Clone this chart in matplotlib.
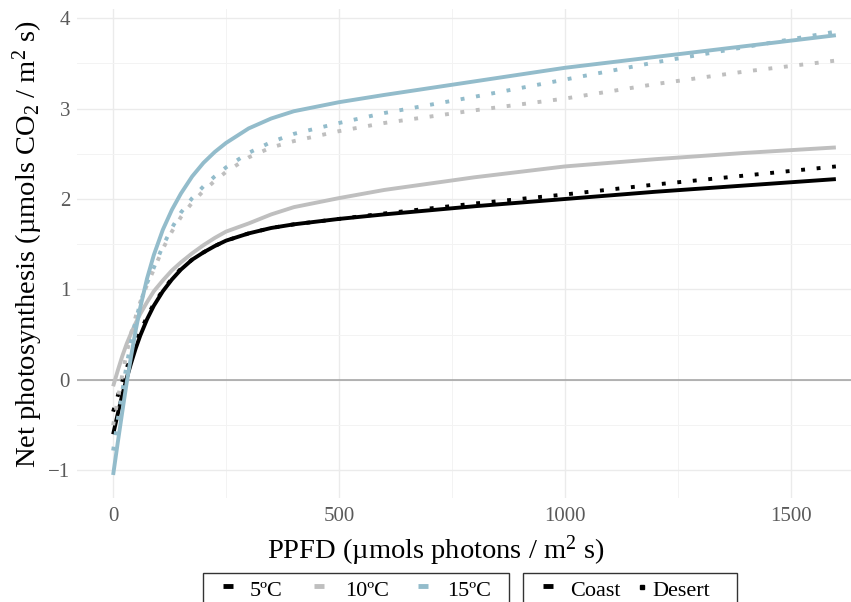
import matplotlib
matplotlib.use("Agg")
import matplotlib.pyplot as plt
from matplotlib.lines import Line2D
from matplotlib.patches import Rectangle

plt.rcParams["font.family"] = ["Liberation Serif", "DejaVu Serif"]
plt.rcParams["mathtext.fontset"] = "custom"
plt.rcParams["mathtext.rm"] = "Liberation Serif"
plt.rcParams["mathtext.it"] = "Liberation Serif:italic"

# light level (PPFD) where each curve was read
ppfd = [0, 10, 20, 30, 40, 50, 60, 75, 90, 110, 130, 150, 175, 200, 225, 250,
        300, 350, 400, 500, 600, 800, 1000, 1200, 1400, 1600]

coast_5 = [-0.60, -0.38, -0.17, 0.02, 0.19, 0.35, 0.49, 0.67, 0.82, 0.98, 1.11, 1.22, 1.33,
           1.41, 1.48, 1.54, 1.62, 1.68, 1.72, 1.78, 1.83, 1.92, 2.00, 2.08, 2.15, 2.22]
desert_5 = [-0.35, -0.18, -0.02, 0.13, 0.27, 0.41, 0.53, 0.70, 0.84, 0.99, 1.12, 1.23, 1.33,
            1.41, 1.48, 1.54, 1.62, 1.68, 1.72, 1.78, 1.84, 1.95, 2.05, 2.16, 2.26, 2.36]
coast_10 = [-0.07, 0.10, 0.26, 0.40, 0.52, 0.63, 0.73, 0.86, 0.98, 1.10, 1.21, 1.30, 1.40,
            1.49, 1.57, 1.64, 1.73, 1.83, 1.91, 2.01, 2.10, 2.24, 2.36, 2.44, 2.51, 2.57]
desert_10 = [-0.50, -0.22, 0.05, 0.30, 0.52, 0.70, 0.86, 1.05, 1.22, 1.45, 1.64, 1.80, 1.96,
             2.09, 2.20, 2.30, 2.46, 2.57, 2.64, 2.75, 2.84, 2.98, 3.11, 3.27, 3.41, 3.53]
coast_15 = [-1.05, -0.70, -0.36, -0.03, 0.27, 0.55, 0.80, 1.12, 1.38, 1.66, 1.88, 2.06, 2.25,
            2.40, 2.52, 2.62, 2.78, 2.89, 2.97, 3.07, 3.15, 3.30, 3.45, 3.57, 3.69, 3.81]
desert_15 = [-0.78, -0.45, -0.13, 0.17, 0.43, 0.66, 0.85, 1.07, 1.24, 1.48, 1.68, 1.85, 2.01,
             2.14, 2.25, 2.35, 2.51, 2.63, 2.72, 2.84, 2.95, 3.13, 3.32, 3.51, 3.68, 3.85]

temp_labels = ["5ºC", "10ºC", "15ºC"]
site_labels = ["Coast", "Desert"]
colors = {"5ºC": "black", "10ºC": "#bfbfbf", "15ºC": "#93bccb"}

W, H = 851, 602
fig = plt.figure(figsize=(W / 100, H / 100), dpi=100)

# panel in pixels (right side runs past the crop edge like the original)
left, right, top, bottom = 77, 872, 9, 497.6
ax = fig.add_axes([left / W, 1 - bottom / H, (right - left) / W, (bottom - top) / H])

dotted = (0, (1, 3))
lw = 2.8
curves = [
    (desert_5, "5ºC", dotted), (coast_5, "5ºC", "-"),
    (desert_10, "10ºC", dotted), (coast_10, "10ºC", "-"),
    (desert_15, "15ºC", dotted), (coast_15, "15ºC", "-"),
]

ax.axhline(0, color="#a0a0a0", lw=1.1, zorder=1)
for ys, t, ls in curves:
    ax.plot(ppfd, ys, color=colors[t], lw=lw, linestyle=ls,
            dash_capstyle="butt", solid_capstyle="butt", zorder=3)

ax.set_xlim(-80, 1680)
ax.set_ylim(-1.3, 4.1)
ax.set_xticks([0, 500, 1000, 1500])
ax.set_xticks([250, 750, 1250], minor=True)
ax.set_yticks([-1, 0, 1, 2, 3, 4])
ax.set_yticks([-0.5, 0.5, 1.5, 2.5, 3.5], minor=True)
ax.grid(which="major", color="#ebebeb", lw=1.0)
ax.grid(which="minor", color="#f3f3f3", lw=0.7)
ax.set_axisbelow(True)
for s in ax.spines.values():
    s.set_visible(False)
ax.tick_params(which="both", length=0)
ax.tick_params(axis="both", labelsize=15, labelcolor="#5a5a5a")
ax.tick_params(axis="x", pad=7)
ax.tick_params(axis="y", pad=5)

ax.set_xlabel("PPFD (µmols photons / m$^2$ s)", fontsize=20.5, va="center")
ax.xaxis.set_label_coords((436 - left) / (right - left), -(551 - bottom) / (bottom - top))
ax.set_ylabel("Net photosynthesis (µmols CO$_2$ / m$^2$ s)", fontsize=20.5, va="center")
ax.yaxis.set_label_coords((28 - left) / (right - left), (bottom - 244) / (bottom - top))


def fx(x):
    return x / W


def fy(y):
    return 1 - y / H


# legend boxes drawn by hand, cut by the bottom edge like the original
def legend_box(x0, x1, entries):
    fig.patches.append(Rectangle((fx(x0), fy(620)), fx(x1 - x0), fy(573) - fy(620),
                                 transform=fig.transFigure, fill=False,
                                 edgecolor="#333333", lw=1.0))
    for hx, tx, label, color, kind in entries:
        if kind == "line":
            fig.add_artist(Line2D([fx(hx), fx(hx + 10)], [fy(586), fy(586)],
                                  transform=fig.transFigure, color=color, lw=3.5,
                                  solid_capstyle="butt"))
        else:
            fig.add_artist(Line2D([fx(hx)], [fy(587)], transform=fig.transFigure,
                                  marker="s", markersize=2.6, color=color, lw=0))
        fig.text(fx(tx), fy(596), label, fontsize=16, va="baseline", ha="left")


legend_box(203, 509, [
    (223, 250, temp_labels[0], colors["5ºC"], "line"),
    (314, 345, temp_labels[1], colors["10ºC"], "line"),
    (418, 447, temp_labels[2], colors["15ºC"], "line"),
])
legend_box(523, 737, [
    (543, 570, site_labels[0], "black", "line"),
    (642, 652, site_labels[1], "black", "dot"),
])

fig.savefig("out.png", dpi=100)
